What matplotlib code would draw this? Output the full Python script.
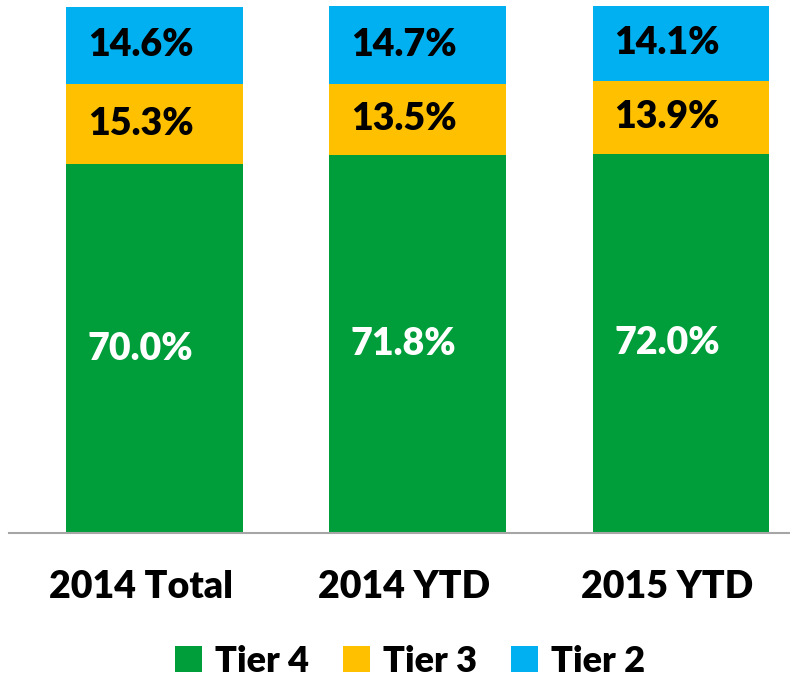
import numpy as np
import matplotlib.pyplot as plt
from matplotlib.transforms import ScaledTranslation

categories = ["2014 Total", "2014 YTD", "2015 YTD"]
tier4 = [70.0, 71.8, 72.0]
tier3 = [15.3, 13.5, 13.9]
tier2 = [14.6, 14.7, 14.1]

colors = {"Tier 4": "#009E3A", "Tier 3": "#FFC000", "Tier 2": "#00B0F0"}
FONT = "Lato"
WEIGHT = "heavy"

fig = plt.figure(figsize=(7.9, 6.79), dpi=100)
ax = fig.add_axes([9 / 790, (679 - 533) / 679, 781 / 790, 533 / 679])

# text in the original sits a little left of the bar centres
shift = ScaledTranslation(-14 / 100, 0, fig.dpi_scale_trans)

x = np.arange(len(categories))
width = 0.672
b4 = ax.bar(x, tier4, width, color=colors["Tier 4"], label="Tier 4")
b3 = ax.bar(x, tier3, width, bottom=tier4, color=colors["Tier 3"], label="Tier 3")
bottom2 = np.array(tier4) + np.array(tier3)
b2 = ax.bar(x, tier2, width, bottom=bottom2, color=colors["Tier 2"], label="Tier 2")

for bars, vals, col in [(b4, tier4, "white"), (b3, tier3, "black"), (b2, tier2, "black")]:
    for rect, v in zip(bars, vals):
        ax.text(rect.get_x() + rect.get_width() / 2, rect.get_y() + rect.get_height() / 2,
                f"{v:.1f}%", ha="center", va="center", color=col,
                fontsize=27, fontweight=WEIGHT, family=FONT,
                transform=ax.transData + shift)

ax.set_xlim(-0.553, 2.414)
ax.set_ylim(0, 101.2)
ax.set_yticks([])
ax.set_xticks(x)
ax.set_xticklabels(categories, fontsize=27, fontweight=WEIGHT, family=FONT)
ax.tick_params(axis="x", length=0, pad=27)
for lab in ax.get_xticklabels():
    lab.set_transform(lab.get_transform() + shift)
for s in ["top", "left", "right"]:
    ax.spines[s].set_visible(False)
ax.spines["bottom"].set_color("#A6A6A6")
ax.spines["bottom"].set_linewidth(1.5)

handles = [b4, b3, b2]
leg = fig.legend(handles, ["Tier 4", "Tier 3", "Tier 2"], loc="center",
                 bbox_to_anchor=(410 / 790, 1 - 661 / 679), ncol=3, frameon=False,
                 prop={"family": FONT, "weight": WEIGHT, "size": 26},
                 handlelength=0.75, handleheight=0.75, handletextpad=0.35, columnspacing=0.95)

fig.savefig("out.png", dpi=100)
